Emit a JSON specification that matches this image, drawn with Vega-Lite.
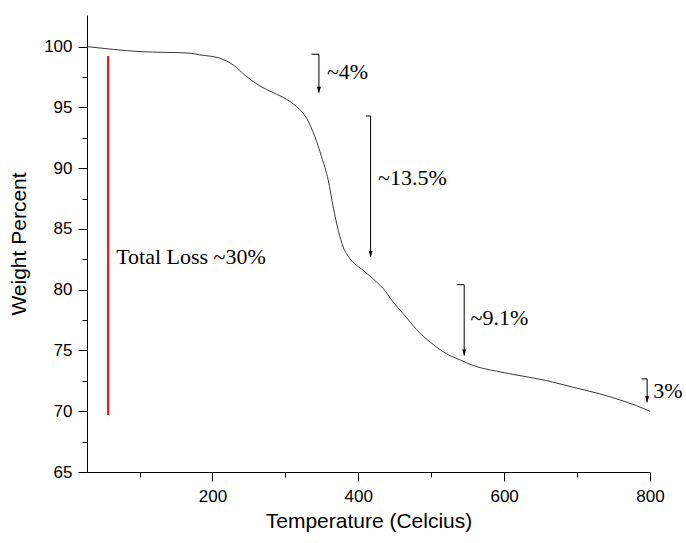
{
  "$schema": "https://vega.github.io/schema/vega-lite/v6.json",
  "width": 563,
  "height": 457,
  "autosize": {"type": "none"},
  "padding": {"left": 87, "top": 15, "right": 36, "bottom": 71},
  "background": "white",
  "config": {
    "view": {"stroke": null},
    "axis": {
      "domainColor": "black",
      "tickColor": "black",
      "labelColor": "black",
      "titleColor": "black",
      "labelFont": "Liberation Sans",
      "titleFont": "Liberation Sans",
      "labelFontSize": 17,
      "titleFontSize": 21,
      "titleFontWeight": "normal",
      "grid": false
    }
  },
  "datasets": {
    "curve": [
      {"T": 28, "W": 100.0},
      {"T": 100.7, "W": 99.59},
      {"T": 169.2, "W": 99.46},
      {"T": 182.9, "W": 99.32},
      {"T": 210.3, "W": 99.04},
      {"T": 228.6, "W": 98.49},
      {"T": 246.9, "W": 97.53},
      {"T": 265.2, "W": 96.76},
      {"T": 283.4, "W": 96.21},
      {"T": 301.7, "W": 95.66},
      {"T": 315.5, "W": 95.05},
      {"T": 329.2, "W": 94.10},
      {"T": 340.5, "W": 92.58},
      {"T": 349.7, "W": 90.93},
      {"T": 358.8, "W": 89.01},
      {"T": 365.6, "W": 86.81},
      {"T": 372.5, "W": 84.89},
      {"T": 379.3, "W": 83.51},
      {"T": 388.5, "W": 82.56},
      {"T": 406.8, "W": 81.59},
      {"T": 425.1, "W": 80.63},
      {"T": 434.2, "W": 80.09},
      {"T": 447.9, "W": 78.98},
      {"T": 466.2, "W": 77.70},
      {"T": 484.5, "W": 76.43},
      {"T": 502.7, "W": 75.49},
      {"T": 521.1, "W": 74.72},
      {"T": 539.3, "W": 74.23},
      {"T": 557.6, "W": 73.76},
      {"T": 589.6, "W": 73.29},
      {"T": 621.6, "W": 72.93},
      {"T": 658.2, "W": 72.52},
      {"T": 694.6, "W": 71.97},
      {"T": 731.2, "W": 71.43},
      {"T": 758.6, "W": 70.93},
      {"T": 781.5, "W": 70.46},
      {"T": 800, "W": 69.99}
    ],
    "total": [
      {"T": 57, "top": 99.23, "bottom": 69.7}
    ],
    "arrows": [
      {"T": 346.0, "Tstart": 336.0, "top": 99.37, "tip": 96.21},
      {"T": 416.9, "Tstart": 410.5, "top": 94.29, "tip": 82.69},
      {"T": 545.2, "Tstart": 535.6, "top": 80.41, "tip": 74.58},
      {"T": 796.1, "Tstart": 788.4, "top": 72.66, "tip": 70.73}
    ],
    "labels": [
      {"T": 68, "W": 82.7, "text": "Total Loss ~30%"},
      {"T": 357, "W": 97.9, "text": "~4%"},
      {"T": 427, "W": 89.2, "text": "~13.5%"},
      {"T": 554, "W": 77.7, "text": "~9.1%"},
      {"T": 804.3, "W": 71.64, "text": "3%"}
    ]
  },
  "resolve": {"axis": {"x": "independent", "y": "independent"}},
  "layer": [
    {
      "data": {"name": "curve"},
      "mark": {"type": "line", "color": "#3a3a3a", "strokeWidth": 1, "interpolate": "monotone", "clip": true},
      "encoding": {
        "x": {
          "field": "T", "type": "quantitative",
          "scale": {"domain": [28, 800], "nice": false, "zero": false},
          "axis": {
            "orient": "bottom",
            "title": "Temperature (Celcius)",
            "values": [200, 400, 600, 800],
            "tickSize": 9,
            "labelPadding": 7,
            "titlePadding": 6,
            "labelFlush": false
          }
        },
        "y": {
          "field": "W", "type": "quantitative",
          "scale": {"domain": [65, 102.6], "nice": false, "zero": false},
          "axis": {
            "orient": "left",
            "title": "Weight Percent",
            "values": [65, 70, 75, 80, 85, 90, 95, 100],
            "tickSize": 9,
            "labelPadding": 6,
            "titlePadding": 14,
            "labelFlush": false
          }
        }
      }
    },
    {
      "data": {"name": "total"},
      "mark": {"type": "rule", "color": "#ff0000", "strokeWidth": 2},
      "encoding": {
        "x": {
          "field": "T", "type": "quantitative",
          "axis": {
            "orient": "bottom",
            "values": [100, 300, 500, 700],
            "labels": false,
            "domain": false,
            "tickSize": 5,
            "title": null
          }
        },
        "y": {
          "field": "top", "type": "quantitative",
          "axis": {
            "orient": "left",
            "values": [67.5, 72.5, 77.5, 82.5, 87.5, 92.5, 97.5],
            "labels": false,
            "domain": false,
            "tickSize": 5,
            "title": null
          }
        },
        "y2": {"field": "bottom"}
      }
    },
    {
      "data": {"name": "arrows"},
      "mark": {"type": "rule", "color": "black", "strokeWidth": 1},
      "encoding": {
        "x": {"field": "T", "type": "quantitative", "axis": null},
        "y": {"field": "top", "type": "quantitative", "axis": null},
        "y2": {"field": "tip"}
      }
    },
    {
      "data": {"name": "arrows"},
      "mark": {"type": "rule", "color": "black", "strokeWidth": 1},
      "encoding": {
        "x": {"field": "Tstart", "type": "quantitative", "axis": null},
        "x2": {"field": "T"},
        "y": {"field": "top", "type": "quantitative", "axis": null}
      }
    },
    {
      "data": {"name": "arrows"},
      "mark": {"type": "point", "filled": true, "color": "black", "opacity": 1, "size": 100, "shape": "M -0.4 -1.2 L 0.4 -1.2 L 0 0 Z"},
      "encoding": {
        "x": {"field": "T", "type": "quantitative", "axis": null},
        "y": {"field": "tip", "type": "quantitative", "axis": null}
      }
    },
    {
      "data": {"name": "labels"},
      "mark": {"type": "text", "align": "left", "baseline": "middle", "font": "Liberation Serif", "fontSize": 22, "color": "black"},
      "encoding": {
        "x": {"field": "T", "type": "quantitative", "axis": null},
        "y": {"field": "W", "type": "quantitative", "axis": null},
        "text": {"field": "text"}
      }
    }
  ]
}
